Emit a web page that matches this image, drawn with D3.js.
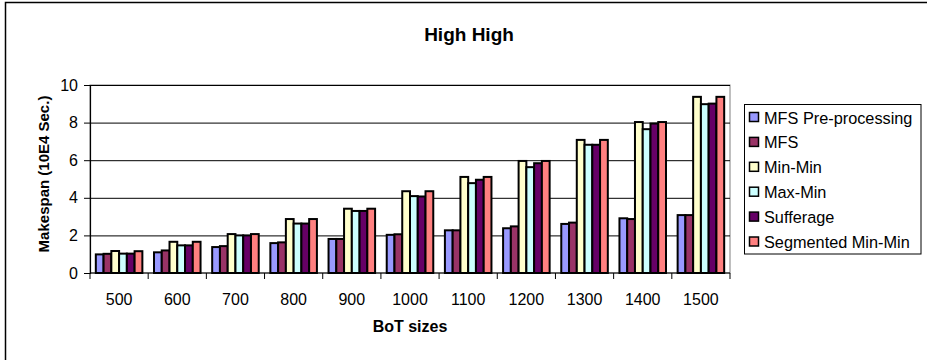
<!DOCTYPE html>
<html>
<head>
<meta charset="utf-8">
<script src="https://cdn.jsdelivr.net/npm/d3@7"></script>
<style>
  body { margin: 0; background: #fff; }
  svg { display: block; font-family: "Liberation Sans", Arial, sans-serif; }
</style>
</head>
<body>
<svg id="chart" width="927" height="360"></svg>
<script>
// ---- data ----
const categories = ["500","600","700","800","900","1000","1100","1200","1300","1400","1500"];
const seriesNames = ["MFS Pre-processing","MFS","Min-Min","Max-Min","Sufferage","Segmented Min-Min"];
const mfsPre   = [0.99, 1.10, 1.38, 1.59, 1.81, 2.03, 2.27, 2.38, 2.61, 2.91, 3.08];
const mfs      = [1.02, 1.20, 1.43, 1.63, 1.81, 2.06, 2.27, 2.48, 2.68, 2.87, 3.08];
const minMin   = [1.17, 1.66, 2.07, 2.87, 3.42, 4.35, 5.11, 5.96, 7.08, 8.03, 9.37];
const maxMin   = [1.03, 1.47, 2.00, 2.63, 3.30, 4.09, 4.78, 5.63, 6.82, 7.65, 8.98];
const sufferage= [1.03, 1.47, 2.00, 2.63, 3.30, 4.07, 4.96, 5.84, 6.82, 7.95, 9.01];
const segMinMin= [1.16, 1.66, 2.07, 2.87, 3.42, 4.35, 5.11, 5.96, 7.08, 8.03, 9.37];
const yTicks = [0, 2, 4, 6, 8, 10];
const seriesValues = [mfsPre, mfs, minMin, maxMin, sufferage, segMinMin];
const colors = ["#9999FF", "#993366", "#FFFFCC", "#CCFFFF", "#660066", "#FF8080"];

const svg = d3.select("#chart");

// outer chart border
svg.append("rect").attr("x", 5.5).attr("y", 2.5).attr("width", 940).attr("height", 380)
  .attr("fill", "#fff").attr("stroke", "#000").attr("stroke-width", 1.5);

const plot = { left: 90, right: 730, top: 85, bottom: 273 };

const x0 = d3.scaleBand().domain(categories).range([plot.left, plot.right]).padding(0);
const x1 = d3.scaleBand().domain(d3.range(seriesNames.length))
  .range([0, x0.bandwidth()]).paddingInner(0).paddingOuter(0.75);
const y = d3.scaleLinear().domain([0, 10]).range([plot.bottom, plot.top]);

// plot area border (gray)
svg.append("rect").attr("x", plot.left).attr("y", plot.top)
  .attr("width", plot.right - plot.left).attr("height", plot.bottom - plot.top)
  .attr("fill", "#fff").attr("stroke", "#808080").attr("stroke-width", 1);

// gridlines
svg.append("g").selectAll("line").data(yTicks.filter(d => d > 0)).join("line")
  .attr("x1", plot.left).attr("x2", plot.right)
  .attr("y1", d => y(d) + 0.5).attr("y2", d => y(d) + 0.5)
  .attr("stroke", "#000").attr("stroke-width", 1);

// bars
const groups = svg.append("g").selectAll("g").data(categories).join("g")
  .attr("transform", d => `translate(${x0(d)},0)`);
groups.selectAll("rect").data((c, ci) => seriesValues.map((s, si) => ({ si, v: s[ci] })))
  .join("rect")
  .attr("x", d => x1(d.si))
  .attr("width", x1.bandwidth())
  .attr("y", d => y(d.v))
  .attr("height", d => y(0) - y(d.v))
  .attr("fill", d => colors[d.si])
  .attr("stroke", "#000").attr("stroke-width", 2);

// y axis
const yAxis = d3.axisLeft(y).tickValues(yTicks).tickSize(6).tickPadding(6).tickFormat(d3.format("d"));
const gy = svg.append("g").attr("transform", `translate(${plot.left},0)`).call(yAxis);
gy.select(".domain").attr("stroke", "#000").attr("stroke-width", 1.2);
gy.selectAll(".tick line").attr("stroke", "#000");
gy.selectAll(".tick text").attr("font-size", 16).attr("fill", "#000")
  .attr("font-family", "Liberation Sans, Arial, sans-serif");

// x axis (ticks at category boundaries)
svg.append("line").attr("x1", plot.left).attr("x2", plot.right)
  .attr("y1", plot.bottom).attr("y2", plot.bottom).attr("stroke", "#000").attr("stroke-width", 1.2);
const boundaries = categories.map(c => x0(c)).concat([x0(categories[categories.length - 1]) + x0.step()]);
svg.append("g").selectAll("line").data(boundaries).join("line")
  .attr("x1", d => d).attr("x2", d => d)
  .attr("y1", plot.bottom).attr("y2", plot.bottom + 6)
  .attr("stroke", "#000");
svg.append("g").selectAll("text").data(categories).join("text")
  .attr("x", d => x0(d) + x0.bandwidth() / 2).attr("y", 304.5)
  .attr("text-anchor", "middle").attr("font-size", 16).attr("fill", "#000")
  .text(d => d);

// titles
svg.append("text").attr("x", 469).attr("y", 41).attr("text-anchor", "middle")
  .attr("font-size", 19).attr("font-weight", "bold").text("High High");
svg.append("text").attr("x", 410).attr("y", 332).attr("text-anchor", "middle")
  .attr("font-size", 16).attr("font-weight", "bold").text("BoT sizes");
svg.append("text").attr("transform", "translate(49,174) rotate(-90)").attr("text-anchor", "middle")
  .attr("font-size", 15).attr("font-weight", "bold").text("Makespan (10E4 Sec.)");

// legend
const lg = svg.append("g");
lg.append("rect").attr("x", 744.5).attr("y", 104.5).attr("width", 176.5).attr("height", 149.5)
  .attr("fill", "#fff").attr("stroke", "#000").attr("stroke-width", 1);
const items = lg.selectAll("g.item").data(seriesNames).join("g").attr("class", "item")
  .attr("transform", (d, i) => `translate(0,${117 + i * 24.9})`);
items.append("rect").attr("x", 749.5).attr("y", -4.5).attr("width", 9).attr("height", 9)
  .attr("fill", (d, i) => colors[i]).attr("stroke", "#000").attr("stroke-width", 1.5);
items.append("text").attr("x", 764).attr("y", 6.5).attr("font-size", 16.3).attr("fill", "#000")
  .text(d => d);
</script>
</body>
</html>
